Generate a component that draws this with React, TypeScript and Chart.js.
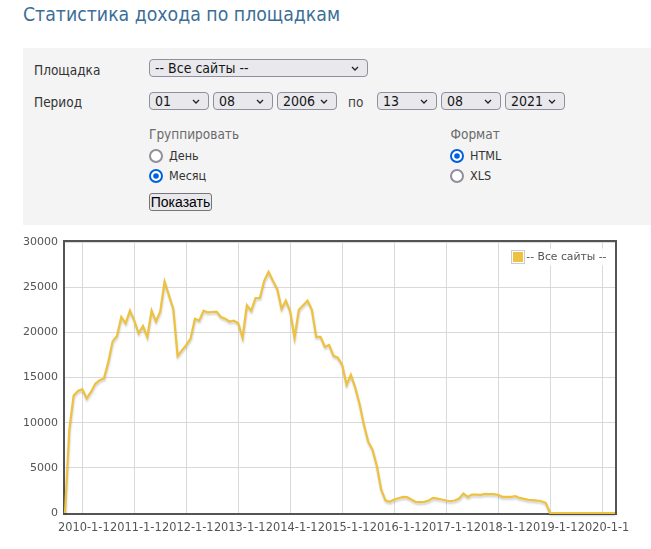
import React, { useEffect, useRef } from "react";
import { Chart, registerables } from "chart.js";

Chart.register(...registerables);

// ---- data ----
const seriesLabel = "-- Все сайты --";
const seriesColor = "#edc240";
const firstYear = 2009;
const firstMonth = 9; // first monthly point: 2009-09
const income = [
  0, 9200, 13000, 13500,
  13700, 12700, 13400, 14300, 14700, 14900, 16700, 19000, 19600, 21700, 21000, 22400,
  21300, 19900, 20700, 19500, 22400, 21200, 22300, 25600, 24100, 22600, 17400, 18000,
  18600, 19300, 21500, 21300, 22400, 22200, 22250, 22300, 21700, 21500, 21200, 21300,
  21000, 19400, 23000, 22400, 23800, 23800, 25700, 26700, 25700, 24800, 22600, 23500,
  22300, 19400, 22500, 23000, 23500, 22500, 19500, 19500, 18400, 18600, 17400, 17200,
  16400, 14200, 15300, 13900, 12100, 9800, 7900, 7000, 5200, 2600, 1400, 1250,
  1490, 1640, 1790, 1750, 1500, 1230, 1200, 1230, 1380, 1670, 1600, 1490,
  1380, 1300, 1380, 1600, 2150, 1790, 2040, 2040, 2000, 2110, 2080, 2080,
  2000, 1790, 1790, 1790, 1860, 1670, 1560, 1450, 1420, 1380, 1300, 1120,
  0, 0, 0, 0, 0, 0, 0, 0, 0, 0, 0, 0,
  0, 0, 0, 0,
];
const yTickValues = [0, 5000, 10000, 15000, 20000, 25000, 30000];
const xTickLabels = [
  "2010-1-1", "2011-1-1", "2012-1-1", "2013-1-1", "2014-1-1", "2015-1-1",
  "2016-1-1", "2017-1-1", "2018-1-1", "2019-1-1", "2020-1-1",
];

// months counted from 2010-01
const baseYear = 2010;
const monthIndex = (y: number, m: number) => (y - baseYear) * 12 + (m - 1);
const labelToMonth = (s: string) => {
  const [y, m] = s.split("-").map(Number);
  return monthIndex(y, m);
};
const points = income.map((v, i) => ({ x: monthIndex(firstYear, firstMonth) + i, y: v }));
const xTickMap: Record<number, string> = {};
xTickLabels.forEach((l) => (xTickMap[labelToMonth(l)] = l));

const TEXT = "#545454";
const GRID = "#d9d9d9";

const framePlugin = {
  id: "frame",
  beforeDatasetsDraw(chart: any) {
    const { ctx, chartArea: a } = chart;
    ctx.save();
    ctx.strokeStyle = TEXT;
    ctx.lineWidth = 2;
    ctx.strokeRect(a.left - 1, a.top - 1, a.right - a.left + 2, a.bottom - a.top + 2);
    ctx.restore();
  },
};

const shadowPlugin = {
  id: "lineShadow",
  beforeDatasetDraw(chart: any) {
    const ctx = chart.ctx;
    ctx.save();
    ctx.shadowColor = "rgba(0,0,0,0.18)";
    ctx.shadowBlur = 2;
    ctx.shadowOffsetX = 0.4;
    ctx.shadowOffsetY = 2;
  },
  afterDatasetDraw(chart: any) {
    chart.ctx.restore();
  },
};

const legendPlugin = {
  id: "innerLegend",
  afterDraw(chart: any) {
    const { ctx, chartArea: a } = chart;
    const ds = chart.data.datasets[0];
    ctx.save();
    ctx.font = '10.8px "DejaVu Sans"';
    const w = ctx.measureText(ds.label).width;
    const tx = a.right - 8.5 - w;
    const cy = a.top + 15;
    const bx = Math.round(tx - 15) + 0.5;
    const by = Math.round(cy - 7) + 0.5;
    ctx.fillStyle = "rgba(255,255,255,0.85)";
    ctx.fillRect(bx - 2, by - 2, w + 22, 17);
    ctx.strokeStyle = "#cccccc";
    ctx.lineWidth = 1;
    ctx.strokeRect(bx, by, 13, 13);
    ctx.fillStyle = ds.borderColor;
    ctx.fillRect(bx + 1.5, by + 1.5, 10, 10);
    ctx.fillStyle = TEXT;
    ctx.textBaseline = "middle";
    ctx.textAlign = "left";
    ctx.fillText(ds.label, tx, cy + 0.5);
    ctx.restore();
  },
};

function IncomeChart() {
  const ref = useRef<HTMLCanvasElement>(null);
  useEffect(() => {
    if (!ref.current) return;
    const chart = new Chart(ref.current, {
      type: "line",
      data: {
        datasets: [
          {
            label: seriesLabel,
            data: points,
            borderColor: seriesColor,
            backgroundColor: seriesColor,
            borderWidth: 2.2,
            pointRadius: 0,
            tension: 0,
            fill: false,
            clip: false as any,
          },
        ],
      },
      options: {
        animation: false,
        responsive: false,
        layout: { padding: { left: 0, right: 36, top: 12, bottom: 0 } },
        plugins: { legend: { display: false }, tooltip: { enabled: false } },
        scales: {
          x: {
            type: "linear",
            min: points[0].x,
            max: points[points.length - 1].x,
            afterBuildTicks: (axis: any) => {
              axis.ticks = xTickLabels.map((l) => ({ value: labelToMonth(l) }));
            },
            afterFit: (s: any) => {
              s.height = 36;
              s.paddingLeft = 0;
              s.paddingRight = 0;
            },
            grid: { color: GRID, lineWidth: 1, drawTicks: false },
            border: { display: false },
            ticks: {
              autoSkip: false,
              maxRotation: 0,
              minRotation: 0,
              padding: 8,
              labelOffset: 1.5,
              color: TEXT,
              font: { family: "DejaVu Sans", size: 11.4 },
              callback: (v: any) => xTickMap[v] ?? "",
            },
          },
          y: {
            type: "linear",
            min: yTickValues[0],
            max: yTickValues[yTickValues.length - 1],
            afterBuildTicks: (axis: any) => {
              axis.ticks = yTickValues.map((v) => ({ value: v }));
            },
            afterFit: (s: any) => {
              s.width = 65;
              s.paddingTop = 0;
              s.paddingBottom = 0;
            },
            grid: { color: GRID, lineWidth: 1, drawTicks: false },
            border: { display: false },
            ticks: {
              padding: 7,
              color: TEXT,
              font: { family: "DejaVu Sans", size: 11 },
              callback: (v: any) => String(v),
            },
          },
        },
      },
      plugins: [framePlugin, shadowPlugin, legendPlugin],
    });
    return () => chart.destroy();
  }, []);
  return (
    <canvas
      ref={ref}
      width={651}
      height={319}
      style={{ position: "absolute", left: 0, top: 230, width: 651, height: 319, display: "block" }}
    />
  );
}

const FONT = '"DejaVu Sans Condensed", "DejaVu Sans", sans-serif';

function Select({ left, top, width, text }: { left: number; top: number; width: number; text: string }) {
  return (
    <div
      style={{
        position: "absolute",
        left,
        top,
        width,
        height: 18,
        boxSizing: "border-box",
        background: "#e9e9ed",
        border: "1px solid #8f8f9d",
        borderRadius: 4,
        fontFamily: FONT,
        fontSize: 14,
        lineHeight: "16px",
        paddingLeft: 5,
        color: "#151515",
        whiteSpace: "nowrap",
      }}
    >
      {text}
      <svg width={8} height={5} style={{ position: "absolute", right: 8, top: 6 }}>
        <polyline points="1,1 4,4 7,1" fill="none" stroke="#222" strokeWidth={1.3} />
      </svg>
    </div>
  );
}

function Radio({ left, top, checked }: { left: number; top: number; checked: boolean }) {
  return (
    <svg width={14} height={14} style={{ position: "absolute", left, top }}>
      <circle cx={7} cy={7} r={6} fill="#fff" stroke={checked ? "#0060df" : "#8f8f9d"} strokeWidth={2} />
      {checked && <circle cx={7} cy={7} r={2.8} fill="#0060df" />}
    </svg>
  );
}

function Text({ left, cy, size, color, children, lh = 16 }: any) {
  return (
    <div
      style={{
        position: "absolute",
        left,
        top: cy - lh / 2,
        fontFamily: FONT,
        fontSize: size,
        lineHeight: `${lh}px`,
        color,
        whiteSpace: "nowrap",
      }}
    >
      {children}
    </div>
  );
}

export default function App() {
  return (
    <div style={{ position: "absolute", left: 0, top: 0, width: 651, height: 549, background: "#fff", overflow: "hidden" }}>
      <div
        style={{
          position: "absolute",
          left: 23,
          top: 3,
          fontFamily: FONT,
          fontSize: 19.3,
          lineHeight: "24px",
          color: "#3b6e96",
          whiteSpace: "nowrap",
        }}
      >
        Статистика дохода по площадкам
      </div>
      <div style={{ position: "absolute", left: 23, top: 48, width: 628, height: 177, background: "#f4f4f4" }} />
      <Text left={34} cy={69.5} size={13.5} color="#333">Площадка</Text>
      <Select left={149} top={59} width={219} text="-- Все сайты --" />
      <Text left={34} cy={102.3} size={13.5} color="#333">Период</Text>
      <Select left={149} top={92} width={60} text="01" />
      <Select left={213} top={92} width={60} text="08" />
      <Select left={277} top={92} width={60} text="2006" />
      <Text left={348} cy={102} size={13.5} color="#444">по</Text>
      <Select left={377} top={92} width={60} text="13" />
      <Select left={441} top={92} width={60} text="08" />
      <Select left={505} top={92} width={60} text="2021" />
      <Text left={149} cy={133.7} size={13.5} color="#6a6a6a">Группировать</Text>
      <Text left={450.5} cy={133.7} size={13.5} color="#6a6a6a">Формат</Text>
      <Radio left={149} top={149} checked={false} />
      <Text left={169} cy={155.5} size={12.5} color="#333">День</Text>
      <Radio left={149} top={169} checked={true} />
      <Text left={169} cy={175.5} size={12.5} color="#333">Месяц</Text>
      <Radio left={450} top={149} checked={true} />
      <Text left={470} cy={155.5} size={12.5} color="#333">HTML</Text>
      <Radio left={450} top={169} checked={false} />
      <Text left={470} cy={175.5} size={12.5} color="#333">XLS</Text>
      <div
        style={{
          position: "absolute",
          left: 149,
          top: 193,
          width: 63,
          height: 18,
          boxSizing: "border-box",
          background: "#e9e9ed",
          border: "1px solid #767676",
          borderRadius: 3,
          fontFamily: '"Liberation Sans", Arial, sans-serif',
          fontSize: 14,
          lineHeight: "16px",
          color: "#000",
          textAlign: "center",
          whiteSpace: "nowrap",
        }}
      >
        Показать
      </div>
      <IncomeChart />
    </div>
  );
}
